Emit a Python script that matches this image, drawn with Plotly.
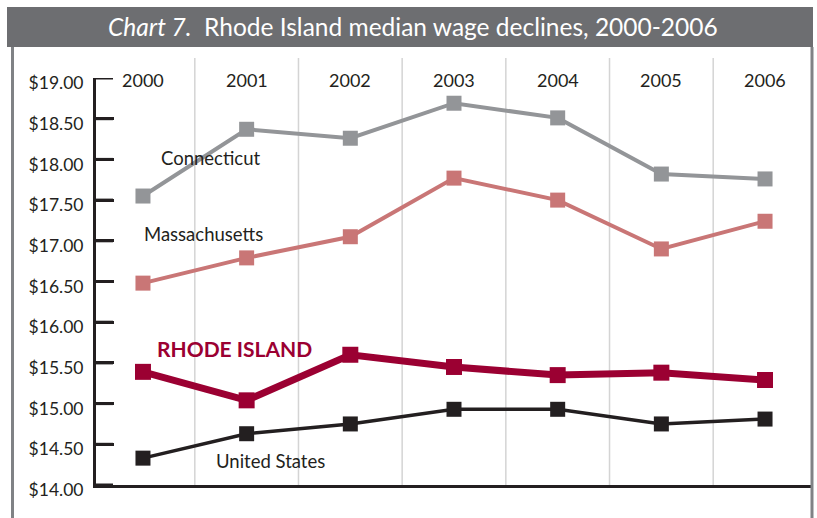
import plotly.graph_objects as go

# Median hourly wage by year
years = ["2000", "2001", "2002", "2003", "2004", "2005", "2006"]
connecticut = [17.55, 18.37, 18.26, 18.69, 18.51, 17.82, 17.76]
massachusetts = [16.48, 16.79, 17.05, 17.77, 17.50, 16.90, 17.24]
rhode_island = [15.39, 15.04, 15.60, 15.45, 15.35, 15.38, 15.29]
united_states = [14.33, 14.63, 14.75, 14.93, 14.93, 14.75, 14.81]

y_ticks = [14.0, 14.5, 15.0, 15.5, 16.0, 16.5, 17.0, 17.5, 18.0, 18.5, 19.0]
y_tick_text = ["$%.2f" % v for v in y_ticks]

FONT = "Lato, 'Open Sans', sans-serif"
TEXT = "#231f20"
BAR = "#6d6e71"

W, H = 817, 518
ML, MR, MT, MB = 96, 5, 78, 33
pw, ph = W - ML - MR, H - MT - MB


def px(x):
    return (x - ML) / pw


def py(y):
    return (H - MB - y) / ph


xs = list(range(len(years)))

series = [
    (connecticut, "#939598", 4, 15),
    (massachusetts, "#c97676", 4, 15),
    (rhode_island, "#9b0032", 7, 16),
    (united_states, "#231f20", 3.5, 15),
]

fig = go.Figure()
for vals, color, lw, ms in series:
    fig.add_trace(go.Scatter(
        x=xs, y=vals, mode="lines+markers",
        line=dict(color=color, width=lw),
        marker=dict(symbol="square", size=ms, color=color),
        hoverinfo="skip", showlegend=False,
    ))

shapes = []
# vertical separators between years
for i in range(len(years) - 1):
    shapes.append(dict(type="line", xref="x", yref="paper",
                       x0=i + 0.5, x1=i + 0.5, y0=0, y1=py(58),
                       line=dict(color="#d4d4d4", width=1.5), layer="below"))
# inward tick marks on the value axis
for v in y_ticks:
    shapes.append(dict(type="line", xref="paper", yref="y",
                       x0=0, x1=px(113), y0=v, y1=v,
                       line=dict(color=TEXT, width=3)))
# title bar
shapes.append(dict(type="rect", xref="paper", yref="paper",
                   x0=px(7), x1=px(813), y0=py(47), y1=py(7),
                   fillcolor=BAR, line=dict(width=0)))
# frame sides
for xv in (12.5, 812):
    shapes.append(dict(type="line", xref="paper", yref="paper",
                       x0=px(xv), x1=px(xv), y0=py(518), y1=py(47),
                       line=dict(color="#808285", width=3)))

annotations = [
    dict(text="<i>Chart 7.</i>  Rhode Island median wage declines, 2000-2006",
         xref="paper", yref="paper", x=px(413), y=py(27),
         xanchor="center", yanchor="middle",
         showarrow=False, font=dict(family=FONT, size=24.5, color="white")),
]
for i, yr in enumerate(years):
    annotations.append(dict(text=yr, x=i, y=19.0, yshift=-2, xref="x", yref="y",
                            xanchor="center", yanchor="middle",
                            showarrow=False, font=dict(family=FONT, size=18, color=TEXT)))

labels = [
    ("Connecticut", 210, 158, TEXT, False),
    ("Massachusetts", 203, 234, TEXT, False),
    ("RHODE ISLAND", 234, 348, "#9b0032", True),
    ("United States", 270, 461, TEXT, False),
]
for txt, lx, ly, col, bold in labels:
    annotations.append(dict(
        text="<b>%s</b>" % txt if bold else txt,
        xref="paper", yref="paper", x=px(lx), y=py(ly),
        xanchor="center", yanchor="middle", showarrow=False,
        font=dict(family=FONT, size=21 if bold else 18.5, color=col)))

fig.update_layout(
    width=W, height=H,
    margin=dict(l=ML, r=MR, t=MT, b=MB),
    paper_bgcolor="white", plot_bgcolor="white",
    shapes=shapes, annotations=annotations,
    xaxis=dict(range=[-0.453, 6.453], showticklabels=False, ticks="",
               showgrid=False, zeroline=False,
               showline=True, linecolor=TEXT, linewidth=3),
    yaxis=dict(range=[14.0, 19.0], tickvals=y_ticks, ticktext=y_tick_text,
               ticks="inside", ticklen=18, tickwidth=3, tickcolor=TEXT,
               ticklabelstandoff=6, ticklabelshift=5,
               showgrid=False, zeroline=False,
               showline=True, linecolor=TEXT, linewidth=3,
               tickfont=dict(family=FONT, size=17.5, color=TEXT)),
)

fig.write_html("out.html")
